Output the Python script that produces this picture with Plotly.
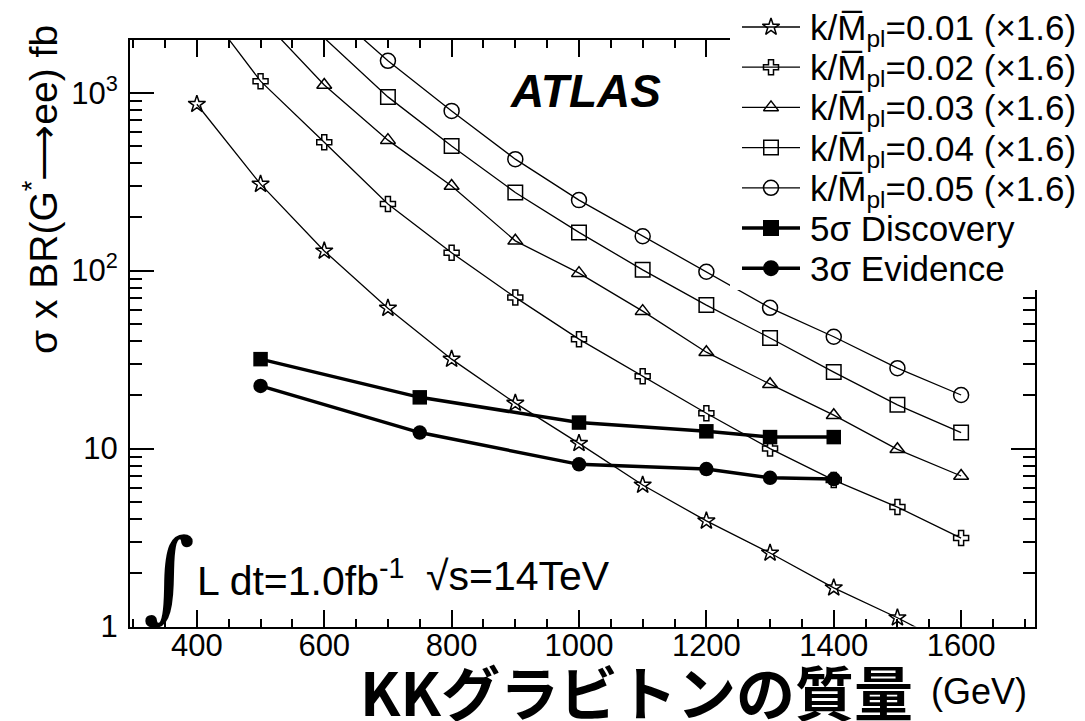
import plotly.graph_objects as go

W, H = 1085, 721

# Graviton mass points (GeV)
mass = [400, 500, 600, 700, 800, 900, 1000, 1100, 1200, 1300, 1400, 1500, 1600]

# sigma x BR(G*->ee) in fb for each coupling k/Mpl (already scaled x1.6)
xsec_k001 = [861, 306, 129, 61.5, 31.8, 18.0, 10.7, 6.24, 3.92, 2.59, 1.65, 1.12, 0.73]
xsec_k002 = [3440, 1161, 527, 237, 126, 70.7, 41.2, 25.5, 15.8, 10.0, 6.65, 4.69, 3.14]
xsec_k003 = [None, 2640, 1104, 541, 299, 147, 96.8, 59.2, 34.8, 23.0, 15.4, 9.90, 7.01]
xsec_k004 = [None, None, 2030, 947, 502, 275, 164, 101, 64.0, 41.8, 26.9, 17.6, 12.3]
xsec_k005 = [None, None, 3130, 1510, 790, 423, 249, 156, 98.5, 61.8, 42.5, 28.3, 20.0]

# Discovery / evidence reach for 1 fb^-1
reach_mass = [500, 750, 1000, 1200, 1300, 1400]
discovery_5sigma = [31.8, 19.4, 14.0, 12.5, 11.6, 11.6]
evidence_3sigma = [22.5, 12.3, 8.15, 7.67, 6.85, 6.74]

x_ticks = [400, 600, 800, 1000, 1200, 1400, 1600]
x_minor = list(range(300, 1701, 50))
y_ticks = [1, 10, 100, 1000]
y_ticktext = ["1", "10", "10<sup>2</sup>", "10<sup>3</sup>"]
y_minor = [m * d for d in (1, 10, 100, 1000) for m in range(2, 10) if m * d <= 2000]

legend_labels = [
    "k/M\u0305<sub>pl</sub>=0.01 (\u00d71.6)",
    "k/M\u0305<sub>pl</sub>=0.02 (\u00d71.6)",
    "k/M\u0305<sub>pl</sub>=0.03 (\u00d71.6)",
    "k/M\u0305<sub>pl</sub>=0.04 (\u00d71.6)",
    "k/M\u0305<sub>pl</sub>=0.05 (\u00d71.6)",
    "5\u03c3 Discovery",
    "3\u03c3 Evidence",
]

X_RANGE = [295, 1716]
Y_LOG_RANGE = [0, 3.296]
Y_MIN, Y_MAX = 10 ** Y_LOG_RANGE[0], 10 ** Y_LOG_RANGE[1]

# frame of the main plot, in page pixels
FL, FR, FT, FB = 130, 1035, 40, 626.5

FONT = "Liberation Sans, Arial, Helvetica, sans-serif"

theory = [
    (xsec_k001, "star-open", 13),
    (xsec_k002, "cross-open", 12.5),
    (xsec_k003, "triangle-up-open", 13),
    (xsec_k004, "square-open", 14.5),
    (xsec_k005, "circle-open", 15),
]
reach = [
    (discovery_5sigma, "square", 14.5),
    (evidence_3sigma, "circle", 14.5),
]

fig = go.Figure()

thin = dict(color="black", width=1.3)
thick = dict(color="black", width=3.5)


def visible_points(xs, ys):
    pts = [(x, y) for x, y in zip(xs, ys) if y is not None and Y_MIN <= y <= Y_MAX]
    return [p[0] for p in pts], [p[1] for p in pts]


for ys, sym, size in theory:
    fig.add_trace(go.Scatter(x=mass, y=ys, mode="lines", line=thin,
                             connectgaps=False, showlegend=False, hoverinfo="skip"))
    mx, my = visible_points(mass, ys)
    fig.add_trace(go.Scatter(x=mx, y=my, mode="markers", showlegend=False,
                             marker=dict(symbol=sym, size=size, color="black",
                                         line=dict(color="black", width=1.5))))

for ys, sym, size in reach:
    fig.add_trace(go.Scatter(x=reach_mass, y=ys, mode="lines+markers", line=thick,
                             showlegend=False,
                             marker=dict(symbol=sym, size=size, color="black")))

# ---- hand-drawn legend on a full-page overlay axis (pixel coordinates) ----
LEG_L, LEG_B = 730, 290
fig.add_trace(go.Scatter(x=[LEG_L, W + 5, W + 5, LEG_L, LEG_L],
                         y=[-5, -5, LEG_B, LEG_B, -5],
                         mode="lines", fill="toself", fillcolor="white",
                         line=dict(width=0, color="white"),
                         xaxis="x2", yaxis="y2", showlegend=False, hoverinfo="skip"))

row_y0, row_dy = 27, 40.2
sample_x0, sample_x1, text_x = 742, 800, 808
styles = [(s[1], s[2], thin) for s in theory] + [(s[1], s[2], thick) for s in reach]
for i, ((sym, size, ln), label) in enumerate(zip(styles, legend_labels)):
    yy = row_y0 + i * row_dy
    fig.add_trace(go.Scatter(x=[sample_x0, sample_x1], y=[yy, yy], mode="lines", line=ln,
                             xaxis="x2", yaxis="y2", showlegend=False, hoverinfo="skip"))
    fig.add_trace(go.Scatter(x=[(sample_x0 + sample_x1) / 2], y=[yy], mode="markers",
                             marker=dict(symbol=sym, size=size, color="black",
                                         line=dict(color="black", width=1.5)),
                             xaxis="x2", yaxis="y2", showlegend=False, hoverinfo="skip"))
    fig.add_annotation(x=text_x, y=yy + (3 if i < 5 else 0), xref="x2", yref="y2",
                       text=label, showarrow=False, xanchor="left", yanchor="middle",
                       font=dict(family=FONT, size=35, color="black"))

# ---- text labels ----
fig.add_annotation(x=585, y=91, xref="x2", yref="y2", text="<b><i>ATLAS</i></b>",
                   showarrow=False, xanchor="center", yanchor="middle",
                   font=dict(family=FONT, size=46, color="black"))
fig.add_annotation(x=40, y=190, xref="x2", yref="y2",
                   text="\u03c3 x BR(G<sup>*</sup>\u27f6ee) fb", textangle=-90,
                   showarrow=False, xanchor="center", yanchor="middle",
                   font=dict(family=FONT, size=39, color="black"))
fig.add_annotation(x=169, y=575, xref="x2", yref="y2", text="\u222b",
                   showarrow=False, xanchor="center", yanchor="middle",
                   font=dict(family="DejaVu Serif", size=100, color="black"))
fig.add_annotation(x=195, y=578, xref="x2", yref="y2", text="L dt=1.0fb<sup>-1</sup>",
                   showarrow=False, xanchor="left", yanchor="middle",
                   font=dict(family=FONT, size=41, color="black"))
fig.add_annotation(x=424, y=576, xref="x2", yref="y2", text="\u221as=14TeV",
                   showarrow=False, xanchor="left", yanchor="middle",
                   font=dict(family=FONT, size=41, color="black"))
fig.add_annotation(x=358, y=690, xref="x2", yref="y2",
                   text="<b>KKグラビトンの質量</b>",
                   showarrow=False, xanchor="left", yanchor="middle",
                   font=dict(family="Noto Sans CJK JP", size=59, color="black"))
fig.add_annotation(x=929, y=691, xref="x2", yref="y2", text="(GeV)",
                   showarrow=False, xanchor="left", yanchor="middle",
                   font=dict(family=FONT, size=36, color="black"))

axis_common = dict(showline=True, linewidth=2, linecolor="black", mirror="allticks",
                   ticks="inside", tickwidth=1.5, tickcolor="black", showgrid=False,
                   zeroline=False, automargin=False,
                   tickfont=dict(family=FONT, size=31, color="black"))

fig.update_layout(
    width=W, height=H,
    margin=dict(l=0, r=0, t=0, b=0, pad=0, autoexpand=False),
    paper_bgcolor="white", plot_bgcolor="rgba(0,0,0,0)",
    showlegend=False,
    xaxis=dict(domain=[FL / W, FR / W], range=X_RANGE, anchor="y",
               tickmode="array", tickvals=x_ticks, ticklen=17,
               minor=dict(tickmode="array", tickvals=x_minor, ticklen=8, ticks="inside",
                          tickwidth=1.5, tickcolor="black", showgrid=False),
               ticklabelstandoff=-10, **axis_common),
    yaxis=dict(domain=[1 - FB / H, 1 - FT / H], type="log", range=Y_LOG_RANGE, anchor="x",
               tickmode="array", tickvals=y_ticks, ticktext=y_ticktext, ticklen=24,
               minor=dict(tickmode="array", tickvals=y_minor, ticklen=12, ticks="inside",
                          tickwidth=1.5, tickcolor="black", showgrid=False),
               ticklabelstandoff=4, **axis_common),
    xaxis2=dict(domain=[0, 1], range=[0, W], anchor="y2", visible=False,
                fixedrange=True, automargin=False),
    yaxis2=dict(domain=[0, 1], range=[H, 0], anchor="x2", visible=False,
                fixedrange=True, automargin=False),
)

fig.write_html("out.html")
